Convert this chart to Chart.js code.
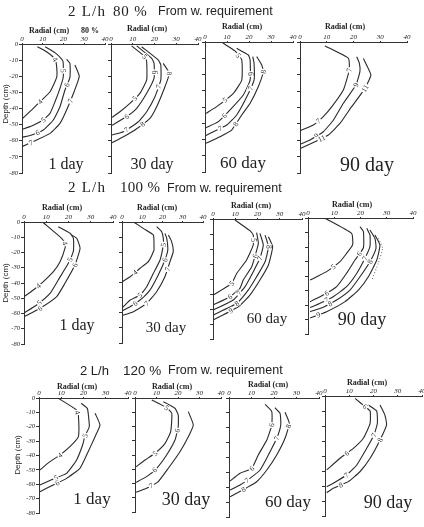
<!DOCTYPE html>
<html><head><meta charset="utf-8">
<script src="https://cdn.jsdelivr.net/npm/chart.js@4/dist/chart.umd.min.js"></script>
<style>
html,body{margin:0;padding:0;background:#fff;width:424px;height:527px;overflow:hidden;position:relative}
canvas{position:absolute}
.t{position:absolute;white-space:nowrap;color:#222;line-height:1}
</style></head><body>
<script>
// ---- axis ticks ----
const radialTicks = [0, 10, 20, 30, 40];
const depthTicks = [0, -10, -20, -30, -40, -50, -60, -70, -80];

// ---- contour lines: [radial cm, depth cm] ----
// 80 %, 1 day
const c80_1_a = [[7.4,-1.7],[12,-5],[15.9,-9.5],[16.7,-14],[16.7,-20.7],[13.5,-29.6],[8.7,-35.8],[4.7,-40.9],[0,-46.5]];
const c80_1_b = [[11.2,-1.7],[16,-5.5],[18.8,-8.9],[19.8,-11],[19.9,-20.3],[18.3,-27.5],[15.9,-35.8],[13.5,-43],[10.3,-47],[4.7,-50.9],[0,-52.9]];
const c80_1_c = [[21.5,-9.5],[23.1,-12],[23.1,-20.7],[20.7,-28.5],[18.3,-38.9],[15.1,-47.1],[10.3,-53.3],[4.7,-56.4],[0,-57.9]];
const c80_1_d = [[25.5,-13],[27.6,-20],[25.1,-29.6],[21.5,-40.9],[18.3,-49.2],[13.5,-55.4],[7.1,-59.5],[0,-63.7]];
// 80 %, 30 day
const c80_30_a = [[9.5,-1.2],[15.6,-7.9],[16.4,-11],[16.4,-22.3],[13.3,-30.6],[8.7,-36.8],[4.1,-42],[0.5,-45.5]];
const c80_30_b = [[11.8,-1.2],[18.7,-8.9],[19.8,-12],[19.8,-21.2],[16.4,-30.6],[11.8,-39.9],[7.2,-45],[0.5,-50.4]];
const c80_30_c = [[14.1,-1.7],[21.7,-9.9],[22.9,-13],[22.9,-22.3],[20.2,-32.7],[16.4,-42],[12.6,-48.2],[5.7,-54.4],[0.5,-56.4]];
const c80_30_d = [[24,-12],[26.8,-18.2],[24.8,-26.5],[21,-38.9],[17.9,-46.1],[11,-53.3],[5.7,-57.5],[0.5,-61.2]];
// 80 %, 60 day
const c80_60_a = [[8,-0.5],[13.6,-5.5],[16.7,-11],[16.7,-23.4],[12.9,-31.6],[5.3,-39.8],[0.5,-43.9]];
const c80_60_b = [[14.4,-3.9],[19.7,-8],[20.5,-11],[20.5,-23.4],[17.4,-32.6],[11.4,-41.8],[6.1,-49],[0.5,-52.7]];
const c80_60_c = [[21.7,-9],[22.3,-13.1],[22.3,-23.4],[19,-33.7],[14.4,-44.9],[9.9,-51.1],[3.8,-55.2],[0.5,-57.5]];
const c80_60_d = [[23.5,-9],[25.8,-14.2],[26.5,-18.3],[24.2,-27.5],[20.5,-37.7],[16.7,-44.9],[12.1,-54.2],[6.8,-58.3],[0.5,-62.3]];
// 80 %, 90 day
const c80_90_a = [[9.3,-2.4],[18.1,-10],[18.4,-17.1],[16.2,-29.3],[11.9,-39.5],[8.7,-45.6],[5,-50.7],[0.3,-54]];
const c80_90_b = [[21.2,-9],[22.2,-13],[22.4,-18.1],[20.9,-26.3],[16.2,-37.4],[12.5,-47.6],[8.7,-54.8],[3.7,-59.8],[0.3,-62.3]];
const c80_90_c = [[23.7,-10],[25.5,-16.1],[26.5,-20.2],[24.3,-28.3],[19.3,-39.5],[15,-49.6],[10.6,-56.8],[5.6,-60.9],[0.3,-64.9]];
// 100 %, 1 day
const c100_1_a = [[8.7,-0.5],[16.9,-10.7],[18.4,-14],[18.4,-17.3],[16.2,-26],[13.2,-32.6],[8.7,-39.1],[4.2,-44.6],[0.1,-48.9]];
const c100_1_b = [[15.4,-3.1],[20.7,-7.4],[22.2,-10.7],[22.2,-19],[19.9,-27.1],[15.4,-38],[11.7,-46.8],[5.7,-54.4],[0.1,-59.5]];
const c100_1_c = [[21.4,-8.5],[23.7,-10.7],[25.2,-17.2],[22.9,-28.2],[18.4,-40.2],[14.7,-48.9],[7.2,-56.6],[0.1,-62.1]];
// 100 %, 30 day
const c100_30_a = [[6.1,-0.3],[10.5,-4.2],[15.5,-8.6],[15.8,-16.3],[15.8,-18.5],[13,-26.2],[8.9,-30.6],[4,-36.2],[0.1,-39.5]];
const c100_30_b = [[17.1,-3.1],[19.6,-6.4],[20.4,-10.8],[20.4,-15],[18.8,-25.1],[15.5,-33.9],[12.2,-42.8],[8.9,-48.3],[4,-51.6],[1.5,-54.9],[0.1,-56.7]];
const c100_30_c = [[21.2,-7.5],[22.1,-10.8],[22.6,-18.5],[21.2,-25.1],[17.9,-35],[13.8,-45],[8.9,-51.6],[4,-56],[0.1,-58.8]];
const c100_30_d = [[22.9,-8.6],[24.5,-13],[25.3,-19.6],[23.7,-26.2],[21.2,-36.2],[17.1,-46.1],[12.2,-53.8],[5.6,-59.3],[0.1,-61.8]];
// 100 %, 60 day
const c100_60_a = [[9.9,-0.7],[16.6,-7.8],[18.1,-10.7],[18.1,-17.3],[15.1,-27.3],[10.7,-36.2],[8.4,-42.9],[0.1,-50.7]];
const c100_60_b = [[19.6,-9.1],[20.4,-16.2],[18.9,-24.7],[17.4,-31.8],[13.6,-40.7],[12.1,-46.2],[7.6,-51.8],[0.1,-57.3]];
const c100_60_c = [[21.1,-9.6],[22.6,-17.3],[21.1,-26.2],[18.1,-35.1],[14.4,-45.1],[9.1,-54],[0.1,-60.7]];
const c100_60_d = [[23.4,-10.7],[24.9,-18.5],[23.4,-28.5],[19.6,-38.5],[15.9,-47.3],[10.7,-56.2],[0.1,-64]];
const c100_60_e = [[24.9,-11.8],[26.8,-18.5],[24.9,-30.7],[21.1,-40.7],[16.6,-50.7],[11.4,-58.5],[0.1,-67.3]];
// 100 %, 90 day
const c100_90_a = [[6.5,-0.2],[16.6,-10.6],[17,-18.6],[14.7,-24.4],[12.2,-30.1],[7.1,-37],[3.3,-40.5],[0.8,-42.8]];
const c100_90_b = [[19.8,-6],[21.1,-9.4],[21.1,-20.5],[17.9,-29],[14.7,-38.1],[10.9,-47.4],[7.1,-51.9],[2,-56.6],[0.8,-57.7]];
const c100_90_c = [[22.4,-7.1],[23.6,-11.7],[23.6,-19.8],[21.7,-27.8],[18.6,-38.1],[14.7,-47.4],[9.6,-54.3],[4.6,-58.8],[0.8,-61.8]];
const c100_90_d = [[23.6,-8.3],[25.5,-14],[25.9,-20.9],[23.6,-30.1],[19.8,-40.5],[16,-49.7],[10.9,-56.6],[5.8,-61.6],[0.8,-64.6]];
const c100_90_e = [[25.5,-11.7],[27.4,-18.6],[26.2,-29],[23,-40.5],[19.2,-49.7],[14.1,-57.7],[7.1,-64.6],[0.8,-68.9]];
const c100_90_f = [[26.8,-14],[28.4,-20.9],[26.8,-31.2],[24.3,-42.8]];
// 120 %, 1 day
const c120_1_a = [[8.7,-0.2],[16.9,-8.3],[17.7,-11.8],[17.7,-26.9],[13.9,-33.9],[9.4,-39.7],[4.9,-44.3],[0.4,-50.1]];
const c120_1_b = [[18.9,-3.7],[21.7,-7.2],[22.2,-11.8],[22.6,-20],[20.7,-26.2],[19.6,-32.7],[16.9,-43.1],[12.4,-52.4],[6.4,-56.3],[0.4,-60.5]];
const c120_1_c = [[25.2,-10.6],[27.4,-18.8],[25.2,-26.9],[21.4,-39.7],[18.4,-48.9],[12.4,-55.9],[6.4,-60.5],[0.4,-65.2]];
// 120 %, 30 day
const c120_30_a = [[7.8,-1.4],[14.7,-6.8],[17.1,-10.7],[16.6,-23.6],[14,-31.8],[9.3,-38.8],[4.7,-43.5],[0.5,-48.2]];
const c120_30_b = [[13.2,-2.6],[18.6,-7.2],[20.1,-11.9],[20.1,-20],[18.6,-29.5],[14.7,-40],[10.1,-49.3],[5.4,-55.2],[0.5,-59.2]];
const c120_30_c = [[24.8,-9.6],[27.1,-18.9],[24.8,-27.2],[20.9,-37.7],[15.5,-49.3],[10.8,-58.7],[5.4,-63.4],[0.5,-66.2]];
// 120 %, 60 day
const c120_60_a = [[16,-4.2],[19,-9.2],[19,-18.2],[16.8,-28.2],[13,-38.3],[10.1,-47.3],[4.9,-50.6],[0.5,-55.8]];
const c120_60_b = [[20.4,-6.5],[22.7,-10.3],[23,-18.2],[21.2,-27.1],[17.5,-38.3],[13.8,-48.4],[9.3,-54],[4.9,-58.5],[0.5,-61.8]];
const c120_60_c = [[24.9,-9.6],[26.8,-17],[24.9,-27.1],[21.2,-38.3],[16.8,-48.4],[12.3,-56.3],[7.9,-60.3],[0.5,-66.4]];
// 120 %, 90 day
const c120_90_a = [[12.4,-1.6],[16.5,-7.1],[18.6,-10],[18.6,-18.2],[15.8,-28.2],[11.7,-34.9],[6.2,-41.5],[0.7,-49.3]];
const c120_90_b = [[17.9,-6],[21.3,-10],[21.6,-18.2],[20.2,-26],[17.2,-34.9],[13.1,-46],[8.9,-52.7],[3.4,-58.2],[0.7,-60.5]];
const c120_90_c = [[22.7,-6],[24.7,-12.7],[25.4,-19.3],[22.7,-29.3],[18.6,-41.5],[14.4,-50.5],[9.6,-57.1],[3.4,-61.5],[0.7,-64.5]];

// ---- panels: contour [points, level label, label positions (fractional index), dash] ----
const panels = [
 {box:[22,105,44,173], yl:true, lines:[[c80_1_a,'4',[2,6]],[c80_1_b,'5',[3.6,8]],[c80_1_c,'6',[2.6,6.5]],[c80_1_d,'7',[2.5,6.4]]]},
 {box:[111,198,44,173], yl:false, lines:[[c80_30_a,'5',[1,4.5]],[c80_30_b,'6',[2.6,6]],[c80_30_c,'7',[3.4,6.8]],[c80_30_d,'8',[1,4.5]]]},
 {box:[205,293,42,172], yl:false, lines:[[c80_60_a,'5',[1.5,4.5]],[c80_60_b,'6',[2.7,5.5]],[c80_60_c,'7',[2.5,5.5]],[c80_60_d,'8',[2,5.6]]]},
 {box:[300,407,42,173], yl:false, lines:[[c80_90_a,'7',[2,5.5]],[c80_90_b,'9',[3,6.5]],[c80_90_c,'11',[3,6.5]]]},
 {box:[24,113,222,344], yl:true, lines:[[c100_1_a,'4',[2,6.5]],[c100_1_b,'5',[3.7,6.8]],[c100_1_c,'6',[3,6]]]},
 {box:[122,203,222,343], yl:false, lines:[[c100_30_a,'4',[6.5]],[c100_30_b,'5',[3,7]],[c100_30_c,'6',[3,6.5]],[c100_30_d,'7',[3.5,6]]]},
 {box:[213,302,219,339], yl:false, lines:[[c100_60_a,'5',[2.5,6]],[c100_60_b,'6',[2,6]],[c100_60_c,'7',[2,4.5]],[c100_60_d,'8',[1,5]],[c100_60_e,'9',[5.3]]]},
 {box:[308,413,218,334], yl:false, lines:[[c100_90_a,'5',[4.5]],[c100_90_b,'6',[2.5,6]],[c100_90_c,'7',[3,6.5]],[c100_90_d,'8',[3,6.5]],[c100_90_e,'9',[6.5]],[c100_90_f,'',[],[1,2]]]},
 {box:[39,128,398,513], yl:true, lines:[[c120_1_a,'4',[1.5,5]],[c120_1_b,'5',[4,7.8]],[c120_1_c,'6',[5.7]]]},
 {box:[135,221,398,512], yl:false, lines:[[c120_30_a,'5',[1,5]],[c120_30_b,'6',[3.3,6.2]],[c120_30_c,'7',[5.6]]]},
 {box:[229,319,398,517], yl:false, lines:[[c120_60_a,'6',[2,5]],[c120_60_b,'7',[3,6.3]],[c120_60_c,'8',[1.2,6.2]]]},
 {box:[325,422,396,516], yl:false, lines:[[c120_90_a,'6',[1,5.5]],[c120_90_b,'7',[3,6]],[c120_90_c,'8',[3,6.5]]]}
];

const contourLabels = {
  id:'contourLabels',
  afterDatasetsDraw(chart){
    const ctx = chart.ctx, xs = chart.scales.x, ys = chart.scales.y;
    chart.data.datasets.forEach(ds => {
      if (!ds.labAt || !ds.label) return;
      const pts = ds.data.map(p => [xs.getPixelForValue(p.x), ys.getPixelForValue(p.y)]);
      ds.labAt.forEach(t => {
        const i = Math.floor(t), f = t - i;
        let x, y, ang;
        if (f > 0 && i + 1 < pts.length) {
          const a = pts[i], b = pts[i+1];
          x = a[0] + (b[0]-a[0])*f; y = a[1] + (b[1]-a[1])*f;
          ang = Math.atan2(b[1]-a[1], b[0]-a[0]);
        } else {
          const a = pts[Math.max(0,i-1)], b = pts[Math.min(pts.length-1,i+1)];
          x = pts[i][0]; y = pts[i][1];
          ang = Math.atan2(b[1]-a[1], b[0]-a[0]);
        }
        if (ang > Math.PI/2) ang -= Math.PI;
        if (ang < -Math.PI/2) ang += Math.PI;
        ctx.save();
        ctx.translate(x, y); ctx.rotate(ang);
        ctx.font = '7.5px "Liberation Serif", serif';
        const w = ctx.measureText(ds.label).width + 2;
        ctx.fillStyle = '#fff'; ctx.fillRect(-w/2, -3.2, w, 6.4);
        ctx.fillStyle = '#333'; ctx.textAlign = 'center'; ctx.textBaseline = 'middle';
        ctx.fillText(ds.label, 0, 0.5);
        ctx.restore();
      });
    });
  }
};

const AH = 10, PR = 8, PB = 6;
panels.forEach(p => {
  const [L, R, T, B] = p.box;
  const AW = p.yl ? 24 : 6;
  const cv = document.createElement('canvas');
  const W = AW + (R - L) + PR, H = AH + (B - T) + PB;
  cv.width = W; cv.height = H;
  cv.style.left = (L - AW) + 'px'; cv.style.top = (T - AH) + 'px';
  cv.style.width = W + 'px'; cv.style.height = H + 'px';
  document.body.appendChild(cv);
  const zeroPad = s => { s.paddingLeft = 0; s.paddingRight = 0; s.paddingTop = 0; s.paddingBottom = 0; };
  new Chart(cv, {
    type: 'scatter',
    data: { datasets: p.lines.map(([pts, lab, at, dash]) => ({
      label: lab, labAt: at,
      data: pts.map(([r, d]) => ({x: r, y: d})),
      showLine: true, pointRadius: 0, borderColor: dash ? '#777' : '#2a2a2a',
      borderWidth: 1.1, borderDash: dash || [], tension: 0.15, fill: false
    })) },
    options: {
      responsive: false, animation: false, events: [], devicePixelRatio: 1,
      layout: { padding: { left: 0, top: 0, right: PR, bottom: PB } },
      plugins: { legend: { display: false }, tooltip: { enabled: false } },
      scales: {
        x: { type: 'linear', position: 'top', min: 0, max: 40,
          afterBuildTicks: s => { s.ticks = radialTicks.map(v => ({value: v})); },
          ticks: { font: { family: '"Liberation Serif", serif', style: 'italic', size: 7, lineHeight: 1 },
                   color: '#222', padding: 0, maxRotation: 0, autoSkip: false, callback: v => String(v) },
          grid: { drawOnChartArea: false, drawTicks: true, tickLength: 1, color: '#333' },
          border: { display: true, color: '#333', width: 1 },
          afterFit: s => { s.height = AH; zeroPad(s); } },
        y: { type: 'linear', position: 'left', min: -80, max: 0,
          afterBuildTicks: s => { s.ticks = depthTicks.map(v => ({value: v})); },
          ticks: { font: { family: '"Liberation Serif", serif', style: 'italic', size: 6.5, lineHeight: 1 },
                   color: '#222', padding: 1, autoSkip: false, callback: v => p.yl ? String(v) : '' },
          grid: { drawOnChartArea: false, drawTicks: true, tickLength: 3, color: '#333' },
          border: { display: true, color: '#333', width: 1 },
          afterFit: s => { s.width = AW; zeroPad(s); } }
      }
    },
    plugins: [contourLabels]
  });
});

// ---- text ----
function txt(x, y, s, font, align, extra, ls) {
  const d = document.createElement('div');
  d.className = 't'; d.textContent = s;
  d.style.left = x + 'px'; d.style.top = y + 'px'; d.style.font = font;
  if (ls) d.style.letterSpacing = ls;
  d.style.transform = (align === 'c' ? 'translate(-50%,-50%)' : 'translate(0,-50%)') + (extra || '');
  document.body.appendChild(d);
}
const SER = '"Liberation Serif", "Times New Roman", serif';
const SAN = '"Liberation Sans", Arial, sans-serif';
// row titles
txt(68, 11, '2 L/h', '15px ' + SER, 'l', '', '1.2px'); txt(113, 11, '80 %', '15px ' + SER, 'l', '', '0.8px'); txt(158, 11, 'From w. requirement', '12.5px ' + SAN);
txt(68, 187, '2 L/h', '15px ' + SER, 'l', '', '1.2px'); txt(120, 187, '100 %', '15px ' + SER, 'l', '', '0.3px'); txt(167, 188, 'From w. requirement', '12.5px ' + SAN);
txt(80, 370, '2 L/h', '13px ' + SAN); txt(123, 370, '120 %', '13.5px ' + SAN); txt(168, 370, 'From w. requirement', '12.5px ' + SAN);
// radial axis titles
const radialPos = [[49,30],[147,28],[242,26],[345,26],[62,207],[157,207],[251,205],[352,204],[77,386],[172,386],[268,384],[367,382]];
radialPos.forEach(([x, y]) => txt(x, y, 'Radial (cm)', 'bold 8px ' + SER, 'c'));
txt(90, 30, '80 %', 'bold 8px ' + SER, 'c');
// depth titles
[[5,104],[5,283],[17,455]].forEach(([x, y]) => txt(x, y, 'Depth (cm)', '8px ' + SAN, 'c', ' rotate(-90deg)'));
// day labels
const dayLabels = [['1 day',66,164,16],['30 day',152,164,16],['60 day',243,163,17],['90 day',367,164,20],
  ['1 day',77,325,16],['30 day',166,327,15],['60 day',267,318,15],['90 day',362,319,18],
  ['1 day',92,499,17],['30 day',186,499,18],['60 day',288,502,17],['90 day',388,502,18]];
dayLabels.forEach(([s, x, y, f]) => txt(x, y, s, f + 'px ' + SER, 'c'));
</script>
</body></html>
